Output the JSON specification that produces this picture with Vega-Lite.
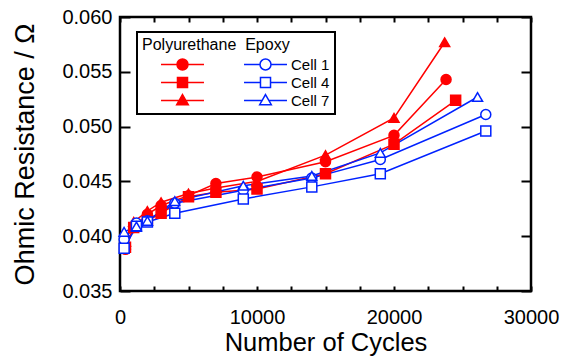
{
  "$schema": "https://vega.github.io/schema/vega-lite/v6.json",
  "width": 411,
  "height": 274,
  "autosize": {"type": "none"},
  "padding": {"left": 120, "top": 17, "right": 36, "bottom": 67},
  "background": "white",
  "config": {
    "font": "Liberation Sans",
    "view": {"stroke": "black", "strokeWidth": 2.5},
    "axis": {
      "grid": false,
      "domain": false,
      "tickColor": "black",
      "tickWidth": 2,
      "labelColor": "black",
      "titleColor": "black",
      "labelFont": "Liberation Sans",
      "titleFont": "Liberation Sans",
      "labelFontSize": 20,
      "titleFontSize": 25.5,
      "titleFontWeight": "normal",
      "labelFlush": false,
      "labelOverlap": false
    }
  },
  "data": {
    "values": [
      {"series": "PU1", "material": "PU", "cell": "1", "cycles": 400, "r": 0.0388},
      {"series": "PU1", "material": "PU", "cell": "1", "cycles": 1000, "r": 0.0408},
      {"series": "PU1", "material": "PU", "cell": "1", "cycles": 2000, "r": 0.0420},
      {"series": "PU1", "material": "PU", "cell": "1", "cycles": 3000, "r": 0.0428},
      {"series": "PU1", "material": "PU", "cell": "1", "cycles": 5000, "r": 0.0437},
      {"series": "PU1", "material": "PU", "cell": "1", "cycles": 7000, "r": 0.0448},
      {"series": "PU1", "material": "PU", "cell": "1", "cycles": 10000, "r": 0.0454},
      {"series": "PU1", "material": "PU", "cell": "1", "cycles": 15000, "r": 0.0468},
      {"series": "PU1", "material": "PU", "cell": "1", "cycles": 20000, "r": 0.0492},
      {"series": "PU1", "material": "PU", "cell": "1", "cycles": 23800, "r": 0.0543},
      {"series": "PU4", "material": "PU", "cell": "4", "cycles": 400, "r": 0.0390},
      {"series": "PU4", "material": "PU", "cell": "4", "cycles": 1000, "r": 0.0408},
      {"series": "PU4", "material": "PU", "cell": "4", "cycles": 2000, "r": 0.0414},
      {"series": "PU4", "material": "PU", "cell": "4", "cycles": 3000, "r": 0.0421},
      {"series": "PU4", "material": "PU", "cell": "4", "cycles": 5000, "r": 0.0436},
      {"series": "PU4", "material": "PU", "cell": "4", "cycles": 7000, "r": 0.0440},
      {"series": "PU4", "material": "PU", "cell": "4", "cycles": 10000, "r": 0.0443},
      {"series": "PU4", "material": "PU", "cell": "4", "cycles": 15000, "r": 0.0457},
      {"series": "PU4", "material": "PU", "cell": "4", "cycles": 20000, "r": 0.0484},
      {"series": "PU4", "material": "PU", "cell": "4", "cycles": 24500, "r": 0.0524},
      {"series": "PU7", "material": "PU", "cell": "7", "cycles": 400, "r": 0.0395},
      {"series": "PU7", "material": "PU", "cell": "7", "cycles": 1000, "r": 0.0413},
      {"series": "PU7", "material": "PU", "cell": "7", "cycles": 2000, "r": 0.0423},
      {"series": "PU7", "material": "PU", "cell": "7", "cycles": 3000, "r": 0.0431},
      {"series": "PU7", "material": "PU", "cell": "7", "cycles": 5000, "r": 0.0439},
      {"series": "PU7", "material": "PU", "cell": "7", "cycles": 7000, "r": 0.0444},
      {"series": "PU7", "material": "PU", "cell": "7", "cycles": 10000, "r": 0.0450},
      {"series": "PU7", "material": "PU", "cell": "7", "cycles": 15000, "r": 0.0474},
      {"series": "PU7", "material": "PU", "cell": "7", "cycles": 20000, "r": 0.0508},
      {"series": "PU7", "material": "PU", "cell": "7", "cycles": 23700, "r": 0.0577},
      {"series": "EP1", "material": "EP", "cell": "1", "cycles": 300, "r": 0.0397},
      {"series": "EP1", "material": "EP", "cell": "1", "cycles": 1200, "r": 0.0412},
      {"series": "EP1", "material": "EP", "cell": "1", "cycles": 2000, "r": 0.0414},
      {"series": "EP1", "material": "EP", "cell": "1", "cycles": 4000, "r": 0.0430},
      {"series": "EP1", "material": "EP", "cell": "1", "cycles": 9000, "r": 0.0442},
      {"series": "EP1", "material": "EP", "cell": "1", "cycles": 14000, "r": 0.0453},
      {"series": "EP1", "material": "EP", "cell": "1", "cycles": 19000, "r": 0.0470},
      {"series": "EP1", "material": "EP", "cell": "1", "cycles": 26700, "r": 0.0511},
      {"series": "EP4", "material": "EP", "cell": "4", "cycles": 300, "r": 0.0389},
      {"series": "EP4", "material": "EP", "cell": "4", "cycles": 1200, "r": 0.0409},
      {"series": "EP4", "material": "EP", "cell": "4", "cycles": 2000, "r": 0.0413},
      {"series": "EP4", "material": "EP", "cell": "4", "cycles": 4000, "r": 0.0421},
      {"series": "EP4", "material": "EP", "cell": "4", "cycles": 9000, "r": 0.0434},
      {"series": "EP4", "material": "EP", "cell": "4", "cycles": 14000, "r": 0.0445},
      {"series": "EP4", "material": "EP", "cell": "4", "cycles": 19000, "r": 0.0457},
      {"series": "EP4", "material": "EP", "cell": "4", "cycles": 26700, "r": 0.0496},
      {"series": "EP7", "material": "EP", "cell": "7", "cycles": 300, "r": 0.0404},
      {"series": "EP7", "material": "EP", "cell": "7", "cycles": 1200, "r": 0.0409},
      {"series": "EP7", "material": "EP", "cell": "7", "cycles": 2000, "r": 0.0414},
      {"series": "EP7", "material": "EP", "cell": "7", "cycles": 4000, "r": 0.0432},
      {"series": "EP7", "material": "EP", "cell": "7", "cycles": 9000, "r": 0.0446},
      {"series": "EP7", "material": "EP", "cell": "7", "cycles": 14000, "r": 0.0455},
      {"series": "EP7", "material": "EP", "cell": "7", "cycles": 19000, "r": 0.0476},
      {"series": "EP7", "material": "EP", "cell": "7", "cycles": 26100, "r": 0.0527}
    ]
  },
  "layer": [
    {
      "mark": {"type": "line", "strokeWidth": 1.5},
      "encoding": {
        "x": {
          "field": "cycles", "type": "quantitative",
          "scale": {"domain": [0, 30000], "nice": false, "zero": false},
          "axis": {
            "orient": "bottom",
            "values": [0, 2500, 5000, 7500, 10000, 12500, 15000, 17500, 20000, 22500, 25000, 27500, 30000],
            "format": "d",
            "labelExpr": "datum.value % 10000 === 0 ? datum.label : ''",
            "tickSize": -5,
            "labelPadding": 21,
            "title": "Number of Cycles",
            "titlePadding": 3,
            "encode": {"ticks": {"update": {"y2": {"signal": "datum.value % 10000 === 0 ? -10 : -5"}}}}
          }
        },
        "y": {
          "field": "r", "type": "quantitative",
          "scale": {"domain": [0.035, 0.060], "nice": false, "zero": false},
          "axis": {
            "orient": "left",
            "values": [0.035, 0.04, 0.045, 0.05, 0.055, 0.06],
            "format": ".3f",
            "tickSize": -10,
            "labelPadding": 18,
            "title": "Ohmic Resistance / Ω",
            "titleFontSize": 27,
            "titlePadding": 22
          }
        },
        "color": {
          "field": "series", "type": "nominal",
          "scale": {"domain": ["PU1", "PU4", "PU7", "EP1", "EP4", "EP7"], "range": ["#ff0000", "#ff0000", "#ff0000", "#0022ff", "#0022ff", "#0022ff"]},
          "legend": {
            "orient": "none",
            "legendX": 17,
            "legendY": 15,
            "columns": 2,
            "title": "Polyurethane\u00a0\u00a0Epoxy",
            "titleFont": "Liberation Sans",
            "titleFontSize": 16,
            "titleFontWeight": "normal",
            "titleColor": "black",
            "titlePadding": 2,
            "labelFont": "Liberation Sans",
            "labelFontSize": 15,
            "labelColor": "black",
            "labelExpr": "substring(datum.value, 0, 1) === 'P' ? '' : 'Cell ' + substring(datum.value, 2, 3)",
            "labelOffset": 16,
            "symbolSize": 300,
            "symbolStrokeWidth": 1.5,
            "symbolOffset": 31,
            "rowPadding": 0,
            "columnPadding": 17,
            "padding": 5,
            "fillColor": "white",
            "strokeColor": "black",
            "encode": {
              "legend": {"update": {"strokeWidth": {"value": 2}}},
              "symbols": {
                "update": {
                  "shape": {"signal": "substring(datum.value, 2, 3) === '1' ? 'M-2.48,0H-0.635M0.635,0H2.48M0.635,0A0.635,0.635,0,1,1,-0.635,0A0.635,0.635,0,1,1,0.635,0Z' : substring(datum.value, 2, 3) === '4' ? 'M-2.48,0H-0.58M0.58,0H2.48M-0.58,-0.58H0.58V0.58H-0.58Z' : 'M-2.48,0H-0.395M0.395,0H2.48M0,-0.69L0.67,0.48H-0.67Z'"},
                  "fill": {"signal": "substring(datum.value, 0, 1) === 'P' ? '#ff0000' : 'white'"},
                  "stroke": {"signal": "substring(datum.value, 0, 1) === 'P' ? '#ff0000' : '#0022ff'"},
                  "strokeWidth": {"value": 1.5},
                  "opacity": {"value": 1},
                  "size": {"value": 300}
                }
              }
            }
          }
        }
      }
    },
    {
      "mark": {"type": "point", "filled": true, "size": 100, "strokeWidth": 1.5, "opacity": 1},
      "encoding": {
        "x": {
          "field": "cycles", "type": "quantitative",
          "axis": {
            "orient": "top",
            "values": [0, 2500, 5000, 7500, 10000, 12500, 15000, 17500, 20000, 22500, 25000, 27500, 30000],
            "labels": false,
            "tickSize": -5,
            "title": null,
            "encode": {"ticks": {"update": {"y2": {"signal": "datum.value % 10000 === 0 ? 10 : 5"}}}}
          }
        },
        "y": {
          "field": "r", "type": "quantitative",
          "axis": {
            "orient": "right",
            "values": [0.035, 0.04, 0.045, 0.05, 0.055, 0.06],
            "labels": false,
            "tickSize": -10,
            "title": null
          }
        },
        "shape": {
          "field": "cell", "type": "nominal",
          "scale": {"domain": ["1", "4", "7"], "range": ["circle", "square", "triangle-up"]},
          "legend": null
        },
        "fill": {
          "field": "material", "type": "nominal",
          "scale": {"domain": ["PU", "EP"], "range": ["#ff0000", "white"]},
          "legend": null
        },
        "stroke": {
          "field": "material", "type": "nominal",
          "scale": {"domain": ["PU", "EP"], "range": ["#ff0000", "#0022ff"]},
          "legend": null
        }
      }
    }
  ],
  "resolve": {"axis": {"x": "independent", "y": "independent"}}
}
